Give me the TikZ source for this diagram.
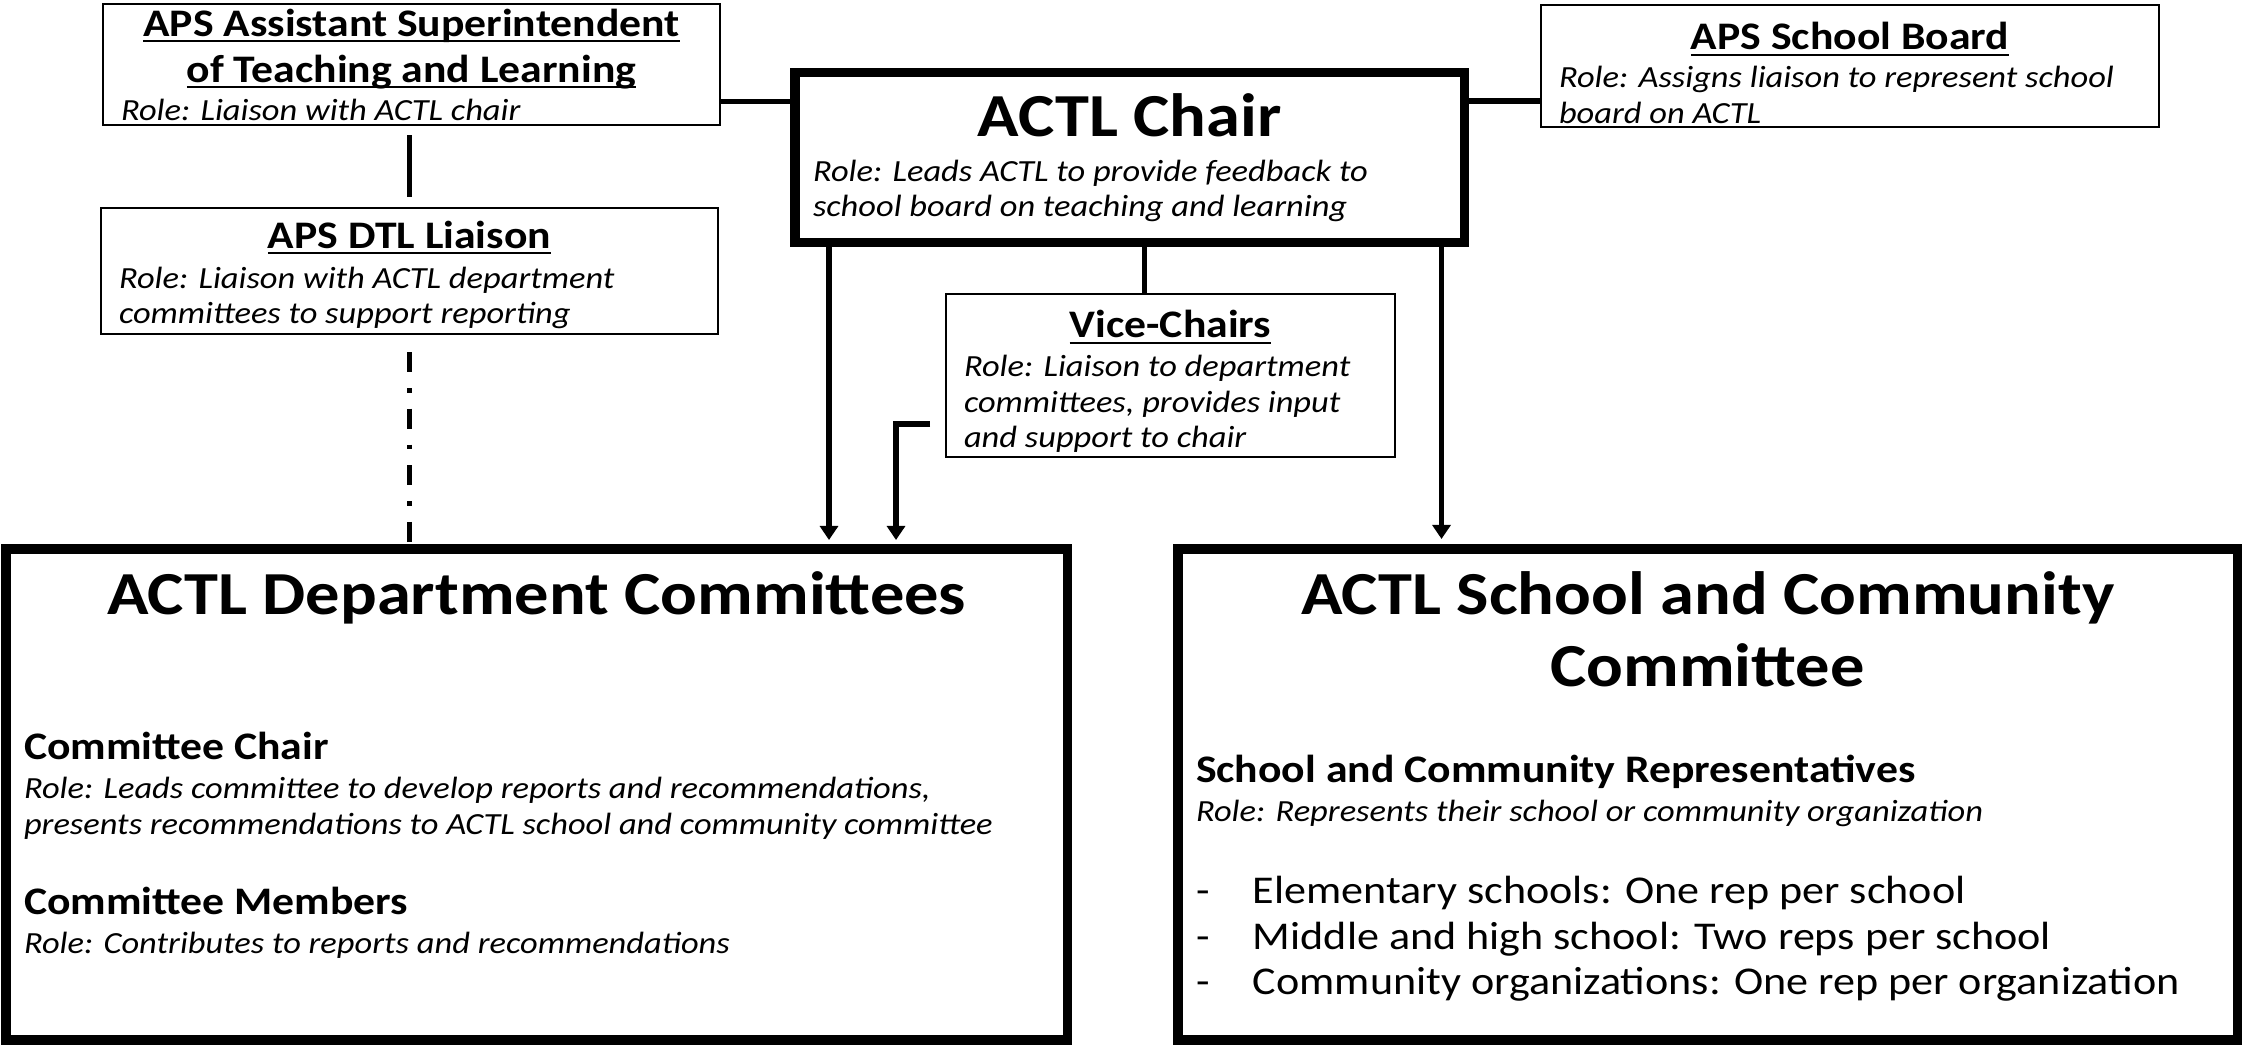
\documentclass[tikz,border=0pt]{standalone}
\usepackage{fontspec}
\setmainfont{Carlito}[FakeStretch=1.12]
\usetikzlibrary{arrows.meta}

\newcommand{\bigtitle}{\fontsize{34.8}{0}\selectfont\normalfont\bfseries}
\newcommand{\boxhead}{\fontsize{22.2}{0}\selectfont\normalfont\bfseries}
\newcommand{\roletext}{\fontsize{17.5}{0}\selectfont\normalfont\itshape}
\newcommand{\listtext}{\fontsize{22.4}{0}\selectfont\normalfont}
% contenido de una caja: alto, ancho, texto
\newcommand{\boxbody}[3]{\parbox[c][#1][t]{#2}{\lineskiplimit=-\maxdimen\lineskip=0pt\baselineskip=0pt #3}}
\newcommand{\dashitem}{\leavevmode\makebox[32.4pt][l]{-}}
% subrayado grueso a profundidad fija
\newsavebox{\ulbox}
\newcommand{\ulined}[1]{\leavevmode\sbox{\ulbox}{#1}\rlap{\rule[-3.4pt]{\wd\ulbox}{1.2pt}}\usebox{\ulbox}}

\begin{document}
\begin{tikzpicture}[
    thinbox/.style={draw, rectangle, line width=1.15pt, inner xsep=0.36cm, inner ysep=0pt, outer sep=0pt, anchor=north west},
    thickbox/.style={thinbox, line width=5.4pt},
    link/.style={line width=3.1pt},
    arrowline/.style={link, -{Triangle[width=10.2pt,length=8pt]}, shorten >=0.18cm}]
    \path[use as bounding box, fill=white] (0,0) rectangle (44.84,-20.9);

    % Cajas superiores
    \node (asst) [thinbox] at (2.06,-0.08)
    {\boxbody{68.86pt}{330.6pt}{%
        {\centering\rule{0pt}{18.4pt}\boxhead\ulined{APS Assistant Superintendent}\par
        \vspace{26.2pt}\ulined{of Teaching and Learning}\par}
        \vspace{21.6pt}\roletext Role: Liaison with ACTL chair\par}};

    \node (dtl) [thinbox] at (2.02,-4.16)
    {\boxbody{71.7pt}{330.6pt}{%
        {\centering\rule{0pt}{22.8pt}\boxhead\ulined{APS DTL Liaison}\par}
        \vspace{22.8pt}\roletext Role: Liaison with ACTL department\par
        \vspace{19.9pt}committees to support reporting\par}};

    \node (chair) [thickbox] at (15.9,-1.45)
    {\boxbody{96.74pt}{360.5pt}{%
        {\centering\rule{0pt}{36.5pt}\bigtitle ACTL Chair\par}
        \vspace{25.4pt}\roletext Role: Leads ACTL to provide feedback to\par
        \vspace{19.9pt}school board on teaching and learning\par}};

    \node (board) [thinbox] at (30.82,-0.1)
    {\boxbody{69.42pt}{331.2pt}{%
        {\centering\rule{0pt}{25.4pt}\boxhead\ulined{APS School Board}\par}
        \vspace{21.8pt}\roletext Role: Assigns liaison to represent school\par
        \vspace{20.2pt}board on ACTL\par}};

    \node (vice) [thinbox] at (18.92,-5.88)
    {\boxbody{92.76pt}{235pt}{%
        {\centering\rule{0pt}{25pt}\boxhead\ulined{Vice-Chairs}\par}
        \vspace{21.8pt}\roletext Role: Liaison to department\par
        \vspace{20.5pt}committees, provides input\par
        \vspace{20.3pt}and support to chair\par}};

    % Comites
    \node (dept) [thickbox] at (0.12,-10.98)
    {\boxbody{279.4pt}{583.6pt}{%
        {\centering\rule{0pt}{37pt}\bigtitle ACTL Department Committees\par}
        \vspace{82.6pt}\boxhead Committee Chair\par
        \vspace{22.4pt}\roletext Role: Leads committee to develop reports and recommendations,\par
        \vspace{20.5pt}presents recommendations to ACTL school and community committee\par
        \vspace{45.5pt}\boxhead Committee Members\par
        \vspace{22.4pt}\roletext Role: Contributes to reports and recommendations\par}};

    \node (school) [thickbox] at (23.56,-10.98)
    {\boxbody{279.4pt}{582.4pt}{%
        {\centering\rule{0pt}{37pt}\bigtitle ACTL School and Community\par
        \vspace{41pt}Committee\par}
        \vspace{55pt}\boxhead School and Community Representatives\par
        \vspace{22.2pt}\roletext Role: Represents their school or community organization\par
        \vspace{46.7pt}\listtext\dashitem Elementary schools: One rep per school\par
        \vspace{25.9pt}\dashitem Middle and high school: Two reps per school\par
        \vspace{25.9pt}\dashitem Community organizations: One rep per organization\par}};

    % Puntos de enlace
    \coordinate (asstlink) at ([yshift=0.47cm]asst.south east);
    \coordinate (boardlink) at ([yshift=0.52cm]board.south west);
    \coordinate (deptin) at ([xshift=0.68cm]chair.south west);
    \coordinate (schoolin) at ([xshift=-0.46cm]chair.south east);
    \coordinate (vicein) at ([xshift=0.3cm]chair.south);
    \coordinate (viceout) at ([yshift=0.66cm]vice.south west);
    \coordinate (vicedrop) at ([xshift=-1cm]vice.south west);

    % Conectores
    \draw[link] (asstlink) -- (asstlink -| chair.west);
    \draw[link] (boardlink) -- (boardlink -| chair.east);
    \draw[link, shorten <=0.2cm, shorten >=0.22cm] (dtl.north |- asst.south) -- (dtl.north);
    \draw[link, shorten <=0.36cm, shorten >=0.14cm, dash pattern=on 0.4cm off 0.32cm on 0.09cm off 0.323cm] (dtl.south) -- (dtl.south |- dept.north);
    \draw[link] (vicein) -- (vicein |- vice.north);
    \draw[arrowline] (deptin) -- (deptin |- dept.north);
    \draw[arrowline, shorten >=0.2cm] (schoolin) -- (schoolin |- school.north);
    \draw[arrowline, shorten <=0.32cm] (viceout) -| (vicedrop |- dept.north);
\end{tikzpicture}
\end{document}
